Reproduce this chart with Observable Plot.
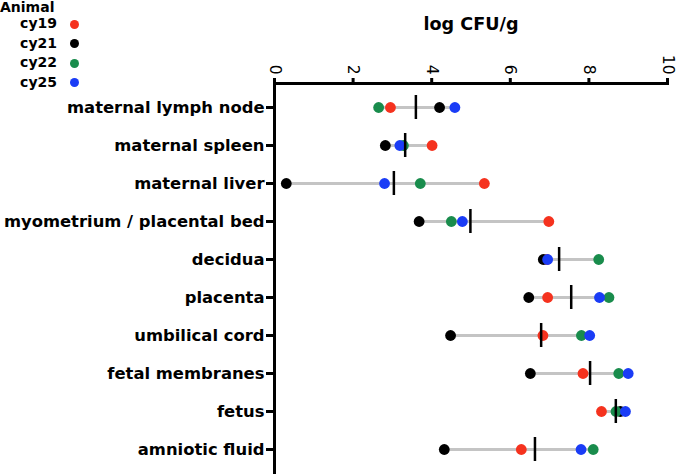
<!DOCTYPE html>
<html>
<head>
<meta charset="utf-8">
<script src="https://cdn.jsdelivr.net/npm/d3@7"></script>
<script src="https://cdn.jsdelivr.net/npm/@observablehq/plot@0.6"></script>
<style>
  body { margin: 0; background: white; }
  #wrap { position: relative; width: 676px; height: 474px; }
  #legend { position: absolute; left: 0; top: 0; font: bold 14px "DejaVu Sans", sans-serif; color: #000; }
  #legend .title { height: 14px; line-height: 14px; }
  #legend .row { height: 19.5px; line-height: 19.5px; white-space: nowrap; }
  #legend .row:first-of-type { margin-top: 1.5px; }
  #legend .lab { display: inline-block; width: 57px; text-align: right; vertical-align: middle; }
  #legend .sw { display: inline-block; width: 9px; height: 9px; border-radius: 50%; margin-left: 13px; vertical-align: middle; }
</style>
</head>
<body>
<div id="wrap">
  <div id="chart"></div>
  <div id="legend"></div>
</div>
<script>
const tissues = [
  "maternal lymph node",
  "maternal spleen",
  "maternal liver",
  "myometrium / placental bed",
  "decidua",
  "placenta",
  "umbilical cord",
  "fetal membranes",
  "fetus",
  "amniotic fluid"
];
const animals = ["cy19", "cy21", "cy22", "cy25"];
const colors = ["#f5321e", "#000000", "#198c4c", "#1a3cf6"];
const cy19 = [2.95, 4.01, 5.34, 6.98, 6.93, 6.95, 6.83, 7.85, 8.32, 6.28];
const cy21 = [4.20, 2.82, 0.30, 3.68, 6.84, 6.47, 4.48, 6.51, 8.80, 4.32];
const cy22 = [2.65, 3.28, 3.71, 4.50, 8.25, 8.51, 7.81, 8.76, 8.69, 8.11];
const cy25 = [4.59, 3.19, 2.80, 4.78, 6.95, 8.27, 8.02, 9.00, 8.93, 7.80];
const xTicks = [0, 2, 4, 6, 8, 10];
const axisTitle = "log CFU/g";
const legendTitle = "Animal";

const series = [cy19, cy21, cy22, cy25];
const points = [];
animals.forEach((a, j) => tissues.forEach((t, i) => points.push({tissue: t, animal: a, value: series[j][i]})));
const summary = tissues.map((t, i) => {
  const vals = series.map(s => s[i]);
  return {tissue: t, min: d3.min(vals), max: d3.max(vals), mean: d3.mean(vals)};
});

const chart = Plot.plot({
  width: 676,
  height: 474,
  marginTop: 83,
  marginLeft: 274,
  marginRight: 9,
  marginBottom: 0,
  style: {fontFamily: "DejaVu Sans, sans-serif", background: "white", color: "black"},
  x: {domain: [0, 10]},
  y: {type: "band", domain: tissues, padding: 0.1},
  color: {domain: animals, range: colors},
  marks: [
    Plot.ruleY(summary, {y: "tissue", x1: "min", x2: "max", stroke: "#c4c4c4", strokeWidth: 3}),
    Plot.dot(points, {x: "value", y: "tissue", fill: "animal", r: 5.4}),
    Plot.tickX(summary, {x: "mean", y: "tissue", stroke: "black", strokeWidth: 2.5, insetTop: 5, insetBottom: 5}),
    Plot.axisX({anchor: "top", ticks: xTicks, tickFormat: d => String(d), tickRotate: 90, tickSize: 6, tickPadding: 3, strokeWidth: 3, fontSize: 15.5, label: null}),
    Plot.axisY({anchor: "left", tickSize: 8, tickPadding: 2, strokeWidth: 3, fontSize: 16.4, fontWeight: "bold", label: null}),
    Plot.ruleX([0], {stroke: "black", strokeWidth: 3}),
    Plot.frame({anchor: "top", stroke: "black", strokeWidth: 3}),
    Plot.text([axisTitle], {text: d => d, frameAnchor: "top", dy: -66, fontSize: 17.6, fontWeight: "bold"})
  ]
});
document.getElementById("chart").appendChild(chart);

const legend = document.getElementById("legend");
const title = document.createElement("div");
title.className = "title";
title.textContent = legendTitle;
legend.appendChild(title);
animals.forEach((a, i) => {
  const row = document.createElement("div");
  row.className = "row";
  const lab = document.createElement("span");
  lab.className = "lab";
  lab.textContent = a;
  const sw = document.createElement("span");
  sw.className = "sw";
  sw.style.background = colors[i];
  row.appendChild(lab);
  row.appendChild(sw);
  legend.appendChild(row);
});
</script>
</body>
</html>
